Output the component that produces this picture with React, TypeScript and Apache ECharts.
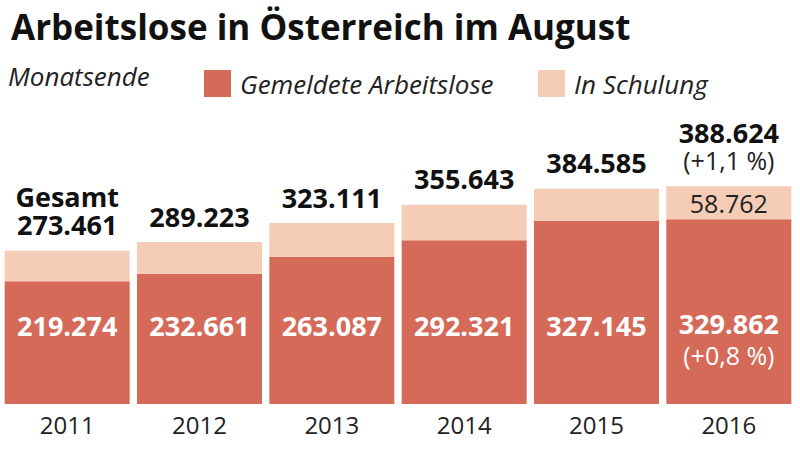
import React, { useEffect, useRef } from "react";
import * as echarts from "echarts";

const years = ["2011", "2012", "2013", "2014", "2015", "2016"];
const gemeldete = [219274, 232661, 263087, 292321, 327145, 329862];
const schulung = [54187, 56562, 60024, 63322, 57440, 58762];
const gesamt = [273461, 289223, 323111, 355643, 384585, 388624];

const RED = "#d56a58";
const LIGHT = "#f5cdb6";
const FONT = "'Open Sans', 'Noto Sans', sans-serif";

function fmt(v: number): string {
  return v.toLocaleString("de-DE");
}

export default function App() {
  const ref = useRef<HTMLDivElement>(null);
  useEffect(() => {
    document.body.style.margin = "0";
    const chart = echarts.init(ref.current!, null, { renderer: "svg" });
    const last = years.length - 1;
    const legendText = {
      fontFamily: FONT,
      fontStyle: "italic",
      fontSize: 26,
      color: "#222",
      padding: [0, 0, 0, 4],
    };
    chart.setOption({
      animation: false,
      textStyle: { fontFamily: FONT },
      title: {
        text: "Arbeitslose in Österreich im August",
        left: 6,
        top: 4,
        textStyle: { fontFamily: FONT, fontWeight: "bold", fontSize: 35, color: "#111" },
      },
      graphic: [
        {
          type: "text",
          left: 8,
          top: 63,
          style: { text: "Monatsende", font: `italic 26px ${FONT}`, fill: "#222" },
        },
      ],
      legend: [
        {
          data: ["Gemeldete Arbeitslose"],
          left: 199,
          top: 65,
          itemWidth: 27,
          itemHeight: 27,
          icon: "rect",
          selectedMode: false,
          textStyle: legendText,
        },
        {
          data: ["In Schulung"],
          left: 533,
          top: 65,
          itemWidth: 27,
          itemHeight: 27,
          icon: "rect",
          selectedMode: false,
          textStyle: legendText,
        },
      ],
      grid: { left: 1, right: 5, top: 180, bottom: 48 },
      xAxis: {
        type: "category",
        data: years,
        axisLine: { show: false },
        axisTick: { show: false },
        axisLabel: { fontSize: 24, color: "#222", margin: 8, fontFamily: FONT },
      },
      yAxis: { type: "value", min: 0, max: 400000, show: false, splitLine: { show: false } },
      series: [
        {
          name: "Gemeldete Arbeitslose",
          type: "bar",
          stack: "a",
          barWidth: 125,
          barGap: "-100%",
          itemStyle: { color: RED },
          data: gemeldete.map((v, i) => {
            if (i === last) {
              return {
                value: v,
                label: {
                  show: true,
                  position: "insideBottom",
                  distance: 33,
                  lineHeight: 32,
                  formatter: `{b|${fmt(v)}}\n{p|(+0,8 %)}`,
                  rich: {
                    b: { fontFamily: FONT, fontWeight: "bold", fontSize: 27, color: "#fff", lineHeight: 32 },
                    p: { fontFamily: FONT, fontWeight: "normal", fontSize: 25, color: "#fff", lineHeight: 32 },
                  },
                },
              };
            }
            return v;
          }),
          label: {
            show: true,
            position: "insideBottom",
            distance: 65,
            fontFamily: FONT,
            fontWeight: "bold",
            fontSize: 27,
            color: "#fff",
            formatter: (p: any) => fmt(p.value),
          },
        },
        {
          name: "In Schulung",
          type: "bar",
          stack: "a",
          barWidth: 125,
          itemStyle: { color: LIGHT },
          data: schulung.map((v, i) =>
            i === last
              ? {
                  value: v,
                  label: {
                    show: true,
                    position: "inside",
                    fontFamily: FONT,
                    fontSize: 25,
                    color: "#222",
                    formatter: fmt(v),
                  },
                }
              : v
          ),
        },
        {
          name: "Gesamt",
          type: "bar",
          barWidth: 125,
          barGap: "-100%",
          silent: true,
          z: 5,
          itemStyle: { color: "rgba(0,0,0,0)" },
          data: gesamt.map((v, i) => {
            let formatter = `{b|${fmt(v)}}`;
            if (i === 0) formatter = `{b|Gesamt}\n{b|${fmt(v)}}`;
            if (i === last) formatter = `{b|${fmt(v)}}\n{p|(+1,1 %)}`;
            return { value: v, label: { formatter } };
          }),
          label: {
            show: true,
            position: "top",
            distance: 12,
            rich: {
              b: { fontFamily: FONT, fontWeight: "bold", fontSize: 27, color: "#111", lineHeight: 28 },
              p: { fontFamily: FONT, fontWeight: "normal", fontSize: 25, color: "#222", lineHeight: 28 },
            },
          },
        },
      ],
    });
    return () => chart.dispose();
  }, []);
  return <div ref={ref} style={{ width: 800, height: 452 }} />;
}
